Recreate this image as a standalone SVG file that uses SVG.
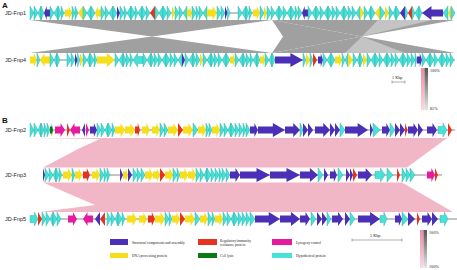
<svg xmlns="http://www.w3.org/2000/svg" xmlns:xlink="http://www.w3.org/1999/xlink" width="457" height="270" viewBox="0 0 457 270">
<style>
.c{fill:#46e2d8;stroke:#1d9c9a;stroke-width:0.35}
.y{fill:#f6de1c}
.b{fill:#4b2fb6}
.r{fill:#e5331f}
.m{fill:#e51a9e}
.g{fill:#0c7a14}
.ax{vector-effect:non-scaling-stroke}
.base{stroke:#111;stroke-width:0.5}
.lbl{font-family:"Liberation Sans",Arial,sans-serif;font-size:5.5px;fill:#222}
.pl{font-family:"Liberation Sans",Arial,sans-serif;font-size:8px;font-weight:bold;fill:#111}
.lg{font-family:"Liberation Serif","Times New Roman",serif;font-size:3.6px;fill:#222}
.sm{font-family:"Liberation Serif","Times New Roman",serif;font-size:4.2px;fill:#222}
.gray{fill:#a0a0a0}
.lgray{fill:#c4c4c4}
.pink{fill:#f2b7c6}
</style>
<defs>
<path id="R" class="ax" d="M0,-3.5H0.55V-7L1,0L0.55,7V3.5H0Z"/>
<path id="L" class="ax" d="M1,-3.5H0.45V-7L0,0L0.45,7V3.5H1Z"/>
<path id="t" class="ax" d="M0,-7L1,0L0,7Z"/>
<path id="u" class="ax" d="M1,-7L0,0L1,7Z"/>
<linearGradient id="gp" x1="0" y1="0" x2="0" y2="1"><stop offset="0" stop-color="#f08aa6"/><stop offset="1" stop-color="#fbd9e2"/></linearGradient>
<linearGradient id="gg" x1="0" y1="0" x2="0" y2="1"><stop offset="0" stop-color="#555"/><stop offset="1" stop-color="#e6e6e6"/></linearGradient>
</defs>

<text class="pl" x="2" y="8">A</text>
<text class="pl" x="2" y="123">B</text>

<g id="connectors">
<polygon class="gray" points="30,20 272,20 152,36.5"/>
<polygon class="gray" points="30,53 272,53 152,36.5"/>
<polygon class="gray" points="272,20 362,36.5 272,53 283,36.5"/>
<polygon class="gray" points="272,20 455,20 362,36.5"/>
<polygon class="gray" points="272,53 455,53 362,36.5"/>
<polygon class="lgray" points="378,20 432,20 362,36.5"/>
<polygon class="lgray" points="345,53 405,53 362,36.5"/>
<polygon class="pink" points="33,138 447,138 407,167.5 43,167.5 80,148 100,139"/>
<polygon class="pink" points="43,182.5 402,182.5 453,212 40,212 95,205"/>
</g>

<g id="JD-Fnp1">
<text class="lbl" x="5" y="15">JD-Fnp1</text>
<g transform="translate(0,13)">
<line class="base" x1="30" y1="0" x2="455" y2="0"/>
<use href="#t" class="c" transform="translate(30) scale(4,1)"/><use href="#t" class="c" transform="translate(34) scale(4,1)"/><use href="#u" class="c" transform="translate(38) scale(3,1)"/><use href="#t" class="c" transform="translate(41) scale(3,1)"/>
<use href="#L" class="b" transform="translate(44) scale(6,1)"/>
<use href="#t" class="c" transform="translate(50) scale(4,1)"/><use href="#u" class="c" transform="translate(54) scale(4,1)"/><use href="#t" class="c" transform="translate(58) scale(3,1)"/><use href="#t" class="c" transform="translate(61) scale(3,1)"/>
<use href="#R" class="y" transform="translate(65) scale(7,1)"/>
<use href="#t" class="c" transform="translate(72) scale(3,1)"/><use href="#t" class="c" transform="translate(75) scale(3,1)"/>
<use href="#u" class="y" transform="translate(78) scale(5,1)"/>
<use href="#t" class="c" transform="translate(83) scale(4,1)"/><use href="#u" class="c" transform="translate(87) scale(4,1)"/><use href="#t" class="c" transform="translate(91) scale(4,1)"/>
<use href="#L" class="y" transform="translate(95) scale(6,1)"/>
<use href="#t" class="c" transform="translate(101) scale(4,1)"/><use href="#t" class="c" transform="translate(105) scale(4,1)"/><use href="#u" class="c" transform="translate(109) scale(4,1)"/><use href="#t" class="c" transform="translate(113) scale(4,1)"/>
<use href="#t" class="b" transform="translate(117) scale(3,1)"/>
<use href="#t" class="c" transform="translate(120) scale(4,1)"/><use href="#t" class="c" transform="translate(124) scale(3,1)"/><use href="#u" class="c" transform="translate(127) scale(4,1)"/><use href="#t" class="c" transform="translate(131) scale(4,1)"/><use href="#t" class="c" transform="translate(135) scale(3,1)"/><use href="#u" class="c" transform="translate(138) scale(4,1)"/><use href="#t" class="c" transform="translate(142) scale(4,1)"/><use href="#t" class="c" transform="translate(146) scale(4,1)"/>
<use href="#u" class="r" transform="translate(150) scale(5,1)"/>
<use href="#t" class="c" transform="translate(155) scale(4,1)"/><use href="#u" class="c" transform="translate(159) scale(4,1)"/><use href="#t" class="c" transform="translate(163) scale(4,1)"/><use href="#t" class="c" transform="translate(167) scale(4,1)"/>
<use href="#t" class="y" transform="translate(172) scale(3,1)"/>
<use href="#t" class="c" transform="translate(175) scale(4,1)"/><use href="#t" class="c" transform="translate(179) scale(4,1)"/><use href="#u" class="c" transform="translate(183) scale(4,1)"/>
<use href="#R" class="y" transform="translate(187) scale(5,1)"/>
<use href="#t" class="c" transform="translate(192) scale(4,1)"/><use href="#t" class="c" transform="translate(196) scale(3,1)"/><use href="#t" class="c" transform="translate(199) scale(4,1)"/><use href="#u" class="c" transform="translate(203) scale(4,1)"/>
<use href="#R" class="y" transform="translate(207) scale(10,1)"/>
<use href="#t" class="c" transform="translate(217) scale(4,1)"/><use href="#t" class="c" transform="translate(221) scale(4,1)"/>
<use href="#t" class="b" transform="translate(225) scale(2.5,1)"/><use href="#t" class="c" transform="translate(227.5) scale(2.5,1)"/>
<use href="#t" class="c" transform="translate(238) scale(4,1)"/><use href="#u" class="c" transform="translate(242) scale(4,1)"/><use href="#t" class="c" transform="translate(246) scale(3,1)"/><use href="#t" class="c" transform="translate(249) scale(3,1)"/>
<use href="#R" class="y" transform="translate(253) scale(7,1)"/>
<use href="#t" class="c" transform="translate(260) scale(4,1)"/>
<use href="#t" class="y" transform="translate(264) scale(3,1)"/>
<use href="#t" class="c" transform="translate(267) scale(4,1)"/><use href="#t" class="c" transform="translate(271) scale(4,1)"/><use href="#u" class="c" transform="translate(275) scale(4,1)"/><use href="#t" class="c" transform="translate(279) scale(4,1)"/><use href="#t" class="c" transform="translate(283) scale(4,1)"/><use href="#u" class="c" transform="translate(287) scale(4,1)"/><use href="#t" class="c" transform="translate(291) scale(4,1)"/><use href="#t" class="c" transform="translate(295) scale(3,1)"/><use href="#t" class="c" transform="translate(298) scale(4,1)"/>
<use href="#L" class="b" transform="translate(302) scale(6,1)"/>
<use href="#t" class="c" transform="translate(308) scale(4,1)"/><use href="#u" class="c" transform="translate(312) scale(4,1)"/><use href="#t" class="c" transform="translate(316) scale(4,1)"/><use href="#t" class="c" transform="translate(320) scale(4,1)"/><use href="#u" class="c" transform="translate(324) scale(4,1)"/><use href="#t" class="c" transform="translate(328) scale(4,1)"/><use href="#t" class="c" transform="translate(332) scale(4,1)"/><use href="#t" class="c" transform="translate(336) scale(4,1)"/><use href="#u" class="c" transform="translate(340) scale(4,1)"/><use href="#t" class="c" transform="translate(344) scale(4,1)"/><use href="#t" class="c" transform="translate(348) scale(4,1)"/><use href="#t" class="c" transform="translate(352) scale(4,1)"/><use href="#u" class="c" transform="translate(356) scale(4,1)"/>
<use href="#t" class="y" transform="translate(360) scale(4,1)"/>
<use href="#t" class="c" transform="translate(364) scale(4,1)"/><use href="#u" class="c" transform="translate(368) scale(3,1)"/><use href="#t" class="c" transform="translate(371) scale(4,1)"/>
<use href="#u" class="y" transform="translate(375) scale(5,1)"/>
<use href="#t" class="c" transform="translate(380) scale(5,1)"/>
<use href="#t" class="y" transform="translate(385) scale(4,1)"/>
<use href="#t" class="c" transform="translate(389) scale(4,1)"/><use href="#u" class="c" transform="translate(393) scale(3,1)"/><use href="#t" class="c" transform="translate(396) scale(4,1)"/>
<use href="#u" class="b" transform="translate(400) scale(5,1)"/>
<use href="#t" class="c" transform="translate(405) scale(3,1)"/>
<use href="#u" class="r" transform="translate(408) scale(4,1)"/>
<use href="#t" class="c" transform="translate(412) scale(3,1)"/><use href="#u" class="c" transform="translate(415) scale(4,1)"/><use href="#t" class="c" transform="translate(419) scale(3,1)"/>
<use href="#L" class="b" transform="translate(422) scale(21,1)"/>
<use href="#u" class="c" transform="translate(443) scale(5,1)"/>
<use href="#u" class="y" transform="translate(448) scale(3,1)"/><use href="#t" class="c" transform="translate(451) scale(4,1)"/>
</g>
</g>

<g id="JD-Fnp4">
<text class="lbl" x="5" y="62">JD-Fnp4</text>
<g transform="translate(0,60)">
<line class="base" x1="30" y1="0" x2="455" y2="0"/>
<use href="#R" class="y" transform="translate(30) scale(7,1)"/>
<use href="#t" class="c" transform="translate(37) scale(3,1)"/>
<use href="#L" class="y" transform="translate(40) scale(10,1)"/>
<use href="#t" class="c" transform="translate(50) scale(4,1)"/><use href="#u" class="c" transform="translate(54) scale(3,1)"/><use href="#t" class="c" transform="translate(57) scale(3,1)"/>
<use href="#t" class="c" transform="translate(67) scale(4,1)"/><use href="#t" class="c" transform="translate(71) scale(4,1)"/>
<use href="#t" class="b" transform="translate(75) scale(2.5,1)"/><use href="#t" class="c" transform="translate(77.5) scale(2.5,1)"/>
<use href="#t" class="y" transform="translate(80) scale(3,1)"/>
<use href="#t" class="c" transform="translate(83) scale(4,1)"/><use href="#u" class="c" transform="translate(87) scale(3,1)"/><use href="#t" class="c" transform="translate(90) scale(4,1)"/><use href="#t" class="c" transform="translate(94) scale(3,1)"/>
<use href="#R" class="y" transform="translate(97) scale(18,1)"/>
<use href="#t" class="c" transform="translate(115) scale(4,1)"/><use href="#u" class="c" transform="translate(119) scale(4,1)"/><use href="#t" class="c" transform="translate(123) scale(3,1)"/><use href="#t" class="c" transform="translate(126) scale(4,1)"/><use href="#t" class="c" transform="translate(130) scale(3,1)"/>
<use href="#L" class="c" transform="translate(133) scale(10,1)"/>
<use href="#t" class="c" transform="translate(143) scale(4,1)"/><use href="#u" class="c" transform="translate(147) scale(4,1)"/><use href="#t" class="c" transform="translate(151) scale(3,1)"/><use href="#t" class="c" transform="translate(154) scale(4,1)"/><use href="#t" class="c" transform="translate(158) scale(4,1)"/><use href="#u" class="c" transform="translate(162) scale(4,1)"/><use href="#t" class="c" transform="translate(166) scale(4,1)"/><use href="#t" class="c" transform="translate(170) scale(4,1)"/><use href="#t" class="c" transform="translate(174) scale(4,1)"/><use href="#u" class="c" transform="translate(178) scale(4,1)"/>
<use href="#t" class="b" transform="translate(182) scale(3,1)"/>
<use href="#t" class="c" transform="translate(185) scale(4,1)"/><use href="#u" class="c" transform="translate(189) scale(4,1)"/><use href="#t" class="c" transform="translate(193) scale(3,1)"/><use href="#t" class="c" transform="translate(196) scale(4,1)"/>
<use href="#t" class="y" transform="translate(200) scale(3,1)"/>
<use href="#t" class="c" transform="translate(203) scale(4,1)"/><use href="#u" class="c" transform="translate(207) scale(4,1)"/><use href="#t" class="c" transform="translate(211) scale(3,1)"/><use href="#t" class="c" transform="translate(214) scale(4,1)"/><use href="#t" class="c" transform="translate(218) scale(4,1)"/><use href="#u" class="c" transform="translate(222) scale(4,1)"/><use href="#t" class="c" transform="translate(226) scale(4,1)"/>
<use href="#R" class="y" transform="translate(230) scale(5,1)"/>
<use href="#t" class="c" transform="translate(235) scale(4,1)"/><use href="#u" class="c" transform="translate(239) scale(4,1)"/><use href="#t" class="c" transform="translate(243) scale(3,1)"/><use href="#t" class="c" transform="translate(246) scale(4,1)"/><use href="#t" class="c" transform="translate(250) scale(3,1)"/><use href="#u" class="c" transform="translate(253) scale(4,1)"/><use href="#t" class="c" transform="translate(257) scale(3,1)"/>
<use href="#R" class="y" transform="translate(260) scale(5,1)"/>
<use href="#t" class="c" transform="translate(265) scale(4,1)"/><use href="#u" class="c" transform="translate(269) scale(3,1)"/><use href="#t" class="c" transform="translate(272) scale(3,1)"/>
<use href="#R" class="b" transform="translate(275) scale(28,1)"/>
<use href="#t" class="c" transform="translate(303) scale(3,1)"/>
<use href="#t" class="y" transform="translate(306) scale(4,1)"/>
<use href="#t" class="c" transform="translate(310) scale(3,1)"/>
<use href="#t" class="r" transform="translate(313) scale(4,1)"/>
<use href="#R" class="b" transform="translate(318) scale(5,1)"/>
<use href="#t" class="c" transform="translate(323) scale(4,1)"/><use href="#u" class="c" transform="translate(327) scale(4,1)"/><use href="#t" class="c" transform="translate(331) scale(4,1)"/>
<use href="#R" class="y" transform="translate(335) scale(7,1)"/>
<use href="#t" class="c" transform="translate(342) scale(3,1)"/><use href="#u" class="c" transform="translate(345) scale(3,1)"/>
<use href="#t" class="y" transform="translate(348) scale(5,1)"/>
<use href="#t" class="c" transform="translate(353) scale(4,1)"/><use href="#u" class="c" transform="translate(357) scale(3,1)"/><use href="#t" class="c" transform="translate(360) scale(3,1)"/>
<use href="#t" class="y" transform="translate(363) scale(4,1)"/>
<use href="#t" class="c" transform="translate(367) scale(4,1)"/><use href="#u" class="c" transform="translate(371) scale(4,1)"/><use href="#t" class="c" transform="translate(375) scale(4,1)"/><use href="#t" class="c" transform="translate(379) scale(4,1)"/><use href="#u" class="c" transform="translate(383) scale(4,1)"/><use href="#t" class="c" transform="translate(387) scale(4,1)"/><use href="#t" class="c" transform="translate(391) scale(4,1)"/><use href="#t" class="c" transform="translate(395) scale(4,1)"/><use href="#u" class="c" transform="translate(399) scale(4,1)"/><use href="#t" class="c" transform="translate(403) scale(4,1)"/><use href="#t" class="c" transform="translate(407) scale(4,1)"/><use href="#t" class="c" transform="translate(411) scale(4,1)"/><use href="#t" class="c" transform="translate(415) scale(2,1)"/>
<use href="#R" class="b" transform="translate(417) scale(5,1)"/>
<use href="#t" class="c" transform="translate(422) scale(4,1)"/><use href="#u" class="c" transform="translate(426) scale(4,1)"/><use href="#t" class="c" transform="translate(430) scale(4,1)"/><use href="#t" class="c" transform="translate(434) scale(4,1)"/><use href="#u" class="c" transform="translate(438) scale(4,1)"/><use href="#t" class="c" transform="translate(442) scale(4,1)"/><use href="#t" class="c" transform="translate(446) scale(4,1)"/><use href="#t" class="c" transform="translate(450) scale(4,1)"/>
</g>
</g>

<g id="JD-Fnp2">
<text class="lbl" x="5" y="132">JD-Fnp2</text>
<g transform="translate(0,130)">
<line class="base" x1="30" y1="0" x2="455" y2="0"/>
<use href="#t" class="c" transform="translate(30) scale(4,1)"/><use href="#t" class="c" transform="translate(34) scale(4,1)"/><use href="#u" class="c" transform="translate(38) scale(3,1)"/><use href="#t" class="c" transform="translate(41) scale(3,1)"/><use href="#t" class="c" transform="translate(44) scale(3,1)"/><use href="#t" class="c" transform="translate(47) scale(3,1)"/>
<use href="#R" class="g" transform="translate(50) scale(3,1)"/>
<use href="#R" class="m" transform="translate(55) scale(10,1)"/>
<use href="#t" class="r" transform="translate(67) scale(3,1)"/>
<use href="#L" class="m" transform="translate(70) scale(10,1)"/>
<use href="#u" class="b" transform="translate(82) scale(3,1)"/>
<use href="#t" class="m" transform="translate(86) scale(3,1)"/>
<use href="#R" class="b" transform="translate(90) scale(7,1)"/>
<use href="#t" class="c" transform="translate(97) scale(4,1)"/><use href="#t" class="c" transform="translate(101) scale(4,1)"/><use href="#u" class="c" transform="translate(105) scale(3,1)"/><use href="#t" class="c" transform="translate(108) scale(4,1)"/><use href="#t" class="c" transform="translate(112) scale(3,1)"/>
<use href="#R" class="y" transform="translate(115) scale(10,1)"/>
<use href="#R" class="y" transform="translate(125) scale(10,1)"/>
<use href="#R" class="r" transform="translate(135) scale(5,1)"/>
<use href="#R" class="y" transform="translate(142) scale(8,1)"/>
<use href="#R" class="y" transform="translate(152) scale(8,1)"/>
<use href="#t" class="c" transform="translate(160) scale(4,1)"/><use href="#t" class="c" transform="translate(164) scale(4,1)"/>
<use href="#R" class="y" transform="translate(168) scale(10,1)"/>
<use href="#t" class="r" transform="translate(178) scale(5,1)"/>
<use href="#R" class="y" transform="translate(183) scale(10,1)"/>
<use href="#t" class="c" transform="translate(193) scale(5,1)"/>
<use href="#R" class="y" transform="translate(198) scale(8,1)"/>
<use href="#t" class="c" transform="translate(206) scale(3,1)"/><use href="#t" class="c" transform="translate(209) scale(3,1)"/>
<use href="#R" class="y" transform="translate(212) scale(8,1)"/>
<use href="#t" class="c" transform="translate(220) scale(4,1)"/><use href="#t" class="c" transform="translate(224) scale(4,1)"/><use href="#u" class="c" transform="translate(228) scale(3,1)"/><use href="#t" class="c" transform="translate(231) scale(4,1)"/><use href="#t" class="c" transform="translate(235) scale(4,1)"/><use href="#t" class="c" transform="translate(239) scale(4,1)"/><use href="#t" class="c" transform="translate(243) scale(3,1)"/><use href="#t" class="c" transform="translate(246) scale(4,1)"/>
<use href="#R" class="b" transform="translate(250) scale(8,1)"/>
<use href="#R" class="b" transform="translate(258) scale(27,1)"/>
<use href="#R" class="b" transform="translate(285) scale(15,1)"/>
<use href="#t" class="c" transform="translate(300) scale(3,1)"/>
<use href="#t" class="b" transform="translate(303) scale(5,1)"/><use href="#t" class="b" transform="translate(308) scale(5,1)"/>
<use href="#R" class="b" transform="translate(315) scale(15,1)"/>
<use href="#t" class="b" transform="translate(330) scale(5,1)"/><use href="#t" class="b" transform="translate(335) scale(5,1)"/>
<use href="#t" class="c" transform="translate(340) scale(5,1)"/>
<use href="#R" class="b" transform="translate(345) scale(23,1)"/>
<use href="#t" class="b" transform="translate(370) scale(3,1)"/>
<use href="#t" class="c" transform="translate(373) scale(7,1)"/>
<use href="#R" class="b" transform="translate(382) scale(8,1)"/>
<use href="#t" class="c" transform="translate(390) scale(5,1)"/>
<use href="#t" class="b" transform="translate(395) scale(5,1)"/><use href="#t" class="b" transform="translate(400) scale(5,1)"/>
<use href="#t" class="r" transform="translate(405) scale(2.5,1)"/>
<use href="#R" class="b" transform="translate(408) scale(10,1)"/>
<use href="#t" class="b" transform="translate(418) scale(5,1)"/>
<use href="#R" class="b" transform="translate(427) scale(10,1)"/>
<use href="#R" class="c" transform="translate(438) scale(9,1)"/>
<use href="#t" class="r" transform="translate(448) scale(4,1)"/>
</g>
</g>

<g id="JD-Fnp3">
<text class="lbl" x="5" y="177">JD-Fnp3</text>
<g transform="translate(0,175)">
<line class="base" x1="43" y1="0" x2="442" y2="0"/>
<use href="#t" class="b" transform="translate(43) scale(2,1)"/>
<use href="#t" class="c" transform="translate(45) scale(4,1)"/><use href="#t" class="c" transform="translate(49) scale(4,1)"/><use href="#u" class="c" transform="translate(53) scale(3,1)"/><use href="#t" class="c" transform="translate(56) scale(3,1)"/><use href="#t" class="c" transform="translate(59) scale(3,1)"/>
<use href="#R" class="y" transform="translate(63) scale(9,1)"/>
<use href="#t" class="c" transform="translate(72) scale(3,1)"/>
<use href="#R" class="y" transform="translate(75) scale(7,1)"/>
<use href="#R" class="r" transform="translate(83) scale(7,1)"/>
<use href="#R" class="y" transform="translate(92) scale(8,1)"/>
<use href="#t" class="c" transform="translate(100) scale(4,1)"/><use href="#t" class="c" transform="translate(104) scale(3,1)"/><use href="#t" class="c" transform="translate(107) scale(3,1)"/>
<use href="#t" class="b" transform="translate(120) scale(3,1)"/>
<use href="#R" class="y" transform="translate(123) scale(5,1)"/>
<use href="#t" class="b" transform="translate(128) scale(4,1)"/>
<use href="#t" class="c" transform="translate(133) scale(4,1)"/><use href="#t" class="c" transform="translate(137) scale(4,1)"/><use href="#t" class="c" transform="translate(141) scale(4,1)"/>
<use href="#R" class="y" transform="translate(145) scale(8,1)"/>
<use href="#R" class="y" transform="translate(153) scale(7,1)"/>
<use href="#t" class="r" transform="translate(160) scale(5,1)"/>
<use href="#R" class="y" transform="translate(165) scale(8,1)"/>
<use href="#t" class="c" transform="translate(173) scale(4,1)"/><use href="#t" class="c" transform="translate(177) scale(3,1)"/>
<use href="#R" class="y" transform="translate(180) scale(8,1)"/>
<use href="#R" class="y" transform="translate(188) scale(8,1)"/>
<use href="#t" class="c" transform="translate(196) scale(4,1)"/><use href="#t" class="c" transform="translate(200) scale(4,1)"/><use href="#u" class="c" transform="translate(204) scale(3,1)"/><use href="#t" class="c" transform="translate(207) scale(4,1)"/><use href="#t" class="c" transform="translate(211) scale(4,1)"/><use href="#t" class="c" transform="translate(215) scale(4,1)"/><use href="#t" class="c" transform="translate(219) scale(3,1)"/><use href="#t" class="c" transform="translate(222) scale(4,1)"/><use href="#t" class="c" transform="translate(226) scale(4,1)"/>
<use href="#R" class="b" transform="translate(230) scale(10,1)"/>
<use href="#R" class="b" transform="translate(240) scale(30,1)"/>
<use href="#R" class="b" transform="translate(270) scale(30,1)"/>
<use href="#R" class="b" transform="translate(300) scale(18,1)"/>
<use href="#t" class="c" transform="translate(318) scale(5,1)"/>
<use href="#t" class="b" transform="translate(324) scale(4,1)"/>
<use href="#R" class="b" transform="translate(330) scale(7,1)"/>
<use href="#t" class="c" transform="translate(338) scale(5,1)"/>
<use href="#t" class="b" transform="translate(346) scale(4,1)"/><use href="#t" class="b" transform="translate(350) scale(3,1)"/>
<use href="#t" class="r" transform="translate(353) scale(4,1)"/>
<use href="#R" class="b" transform="translate(358) scale(14,1)"/>
<use href="#R" class="c" transform="translate(375) scale(10,1)"/>
<use href="#t" class="c" transform="translate(387) scale(6,1)"/>
<use href="#t" class="r" transform="translate(397) scale(3,1)"/>
<use href="#t" class="c" transform="translate(402) scale(4,1)"/><use href="#t" class="c" transform="translate(406) scale(4,1)"/><use href="#t" class="c" transform="translate(410) scale(5,1)"/>
<use href="#R" class="m" transform="translate(427) scale(8,1)"/>
<use href="#t" class="r" transform="translate(435) scale(3,1)"/>
</g>
</g>

<g id="JD-Fnp5">
<text class="lbl" x="5" y="221">JD-Fnp5</text>
<g transform="translate(0,219)">
<line class="base" x1="30" y1="0" x2="457" y2="0"/>
<use href="#R" class="c" transform="translate(30) scale(8,1)"/>
<use href="#t" class="r" transform="translate(38) scale(4,1)"/>
<use href="#t" class="c" transform="translate(42) scale(4,1)"/><use href="#t" class="c" transform="translate(46) scale(4,1)"/><use href="#u" class="c" transform="translate(50) scale(3,1)"/><use href="#t" class="c" transform="translate(53) scale(4,1)"/><use href="#t" class="c" transform="translate(57) scale(4,1)"/>
<use href="#R" class="m" transform="translate(68) scale(9,1)"/>
<use href="#L" class="m" transform="translate(83) scale(10,1)"/>
<use href="#u" class="b" transform="translate(95) scale(5,1)"/>
<use href="#u" class="r" transform="translate(100) scale(5,1)"/>
<use href="#t" class="c" transform="translate(107) scale(4,1)"/><use href="#t" class="c" transform="translate(111) scale(4,1)"/><use href="#u" class="c" transform="translate(115) scale(3,1)"/><use href="#t" class="c" transform="translate(118) scale(4,1)"/><use href="#t" class="c" transform="translate(122) scale(3,1)"/>
<use href="#R" class="y" transform="translate(127) scale(10,1)"/>
<use href="#R" class="y" transform="translate(139) scale(8,1)"/>
<use href="#R" class="r" transform="translate(148) scale(7,1)"/>
<use href="#R" class="y" transform="translate(155) scale(10,1)"/>
<use href="#t" class="c" transform="translate(165) scale(4,1)"/><use href="#t" class="c" transform="translate(169) scale(3,1)"/>
<use href="#R" class="y" transform="translate(172) scale(8,1)"/>
<use href="#t" class="r" transform="translate(180) scale(5,1)"/>
<use href="#R" class="y" transform="translate(185) scale(10,1)"/>
<use href="#t" class="c" transform="translate(195) scale(5,1)"/>
<use href="#R" class="y" transform="translate(200) scale(8,1)"/>
<use href="#t" class="c" transform="translate(208) scale(4,1)"/><use href="#t" class="c" transform="translate(212) scale(3,1)"/>
<use href="#R" class="y" transform="translate(215) scale(8,1)"/>
<use href="#t" class="c" transform="translate(223) scale(4,1)"/><use href="#t" class="c" transform="translate(227) scale(4,1)"/><use href="#u" class="c" transform="translate(231) scale(3,1)"/><use href="#t" class="c" transform="translate(234) scale(4,1)"/><use href="#t" class="c" transform="translate(238) scale(4,1)"/><use href="#t" class="c" transform="translate(242) scale(4,1)"/><use href="#t" class="c" transform="translate(246) scale(4,1)"/><use href="#t" class="c" transform="translate(250) scale(5,1)"/>
<use href="#R" class="b" transform="translate(255) scale(25,1)"/>
<use href="#R" class="b" transform="translate(280) scale(20,1)"/>
<use href="#R" class="b" transform="translate(300) scale(10,1)"/>
<use href="#t" class="c" transform="translate(311) scale(5,1)"/>
<use href="#t" class="b" transform="translate(317) scale(5,1)"/><use href="#t" class="b" transform="translate(322) scale(5,1)"/>
<use href="#t" class="c" transform="translate(327) scale(4,1)"/>
<use href="#R" class="b" transform="translate(332) scale(11,1)"/>
<use href="#t" class="b" transform="translate(345) scale(5,1)"/>
<use href="#t" class="c" transform="translate(350) scale(5,1)"/>
<use href="#R" class="b" transform="translate(358) scale(22,1)"/>
<use href="#R" class="c" transform="translate(380) scale(7,1)"/>
<use href="#R" class="b" transform="translate(395) scale(7,1)"/>
<use href="#t" class="c" transform="translate(402) scale(6,1)"/>
<use href="#t" class="b" transform="translate(408) scale(7,1)"/>
<use href="#t" class="r" transform="translate(417) scale(3,1)"/>
<use href="#R" class="b" transform="translate(422) scale(10,1)"/>
<use href="#t" class="b" transform="translate(432) scale(6,1)"/>
<use href="#R" class="c" transform="translate(440) scale(8,1)"/>
</g>
</g>

<g id="scale-a">
<text class="sm" x="392" y="79">1 Kbp</text>
<path d="M392,82H405M392,80.5V83.5M405,80.5V83.5" stroke="#333" stroke-width="0.4" fill="none"/>
</g>
<g id="identity-a">
<rect x="421" y="68" width="3.5" height="42" fill="url(#gp)"/>
<rect x="424.5" y="68" width="3.5" height="42" fill="url(#gg)"/>
<text class="sm" x="430" y="72">100%</text>
<text class="sm" x="430" y="110">81%</text>
</g>

<g id="legend">
<rect x="110" y="239" width="18" height="6" class="b"/>
<text class="lg" x="132" y="243.5">Structural components and assembly</text>
<rect x="110" y="253" width="18" height="5" class="y"/>
<text class="lg" x="132" y="257">DNA processing protein</text>
<rect x="198" y="239" width="19" height="6" class="r"/>
<text class="lg" x="220" y="241.5">Regulatory/immunity</text>
<text class="lg" x="220" y="245.5">resistance protein</text>
<rect x="198" y="253" width="19" height="5" class="g"/>
<text class="lg" x="220" y="257">Cell lysis</text>
<rect x="272" y="239" width="20" height="6" class="m"/>
<text class="lg" x="296" y="243.5">Lysogeny control</text>
<rect x="272" y="253" width="20" height="5" class="c" style="stroke:none"/>
<text class="lg" x="296" y="257">Hypothetical protein</text>
</g>
<g id="scale-b">
<text class="sm" x="370" y="237">5 Kbp</text>
<path d="M352,240H402M352,238.5V241.5M402,238.5V241.5" stroke="#333" stroke-width="0.4" fill="none"/>
</g>
<g id="identity-b">
<rect x="420" y="230" width="3.5" height="38" fill="url(#gp)"/>
<rect x="423.5" y="230" width="3.5" height="38" fill="url(#gg)"/>
<text class="sm" x="429" y="234">100%</text>
<text class="sm" x="429" y="268">100%</text>
</g>
</svg>
